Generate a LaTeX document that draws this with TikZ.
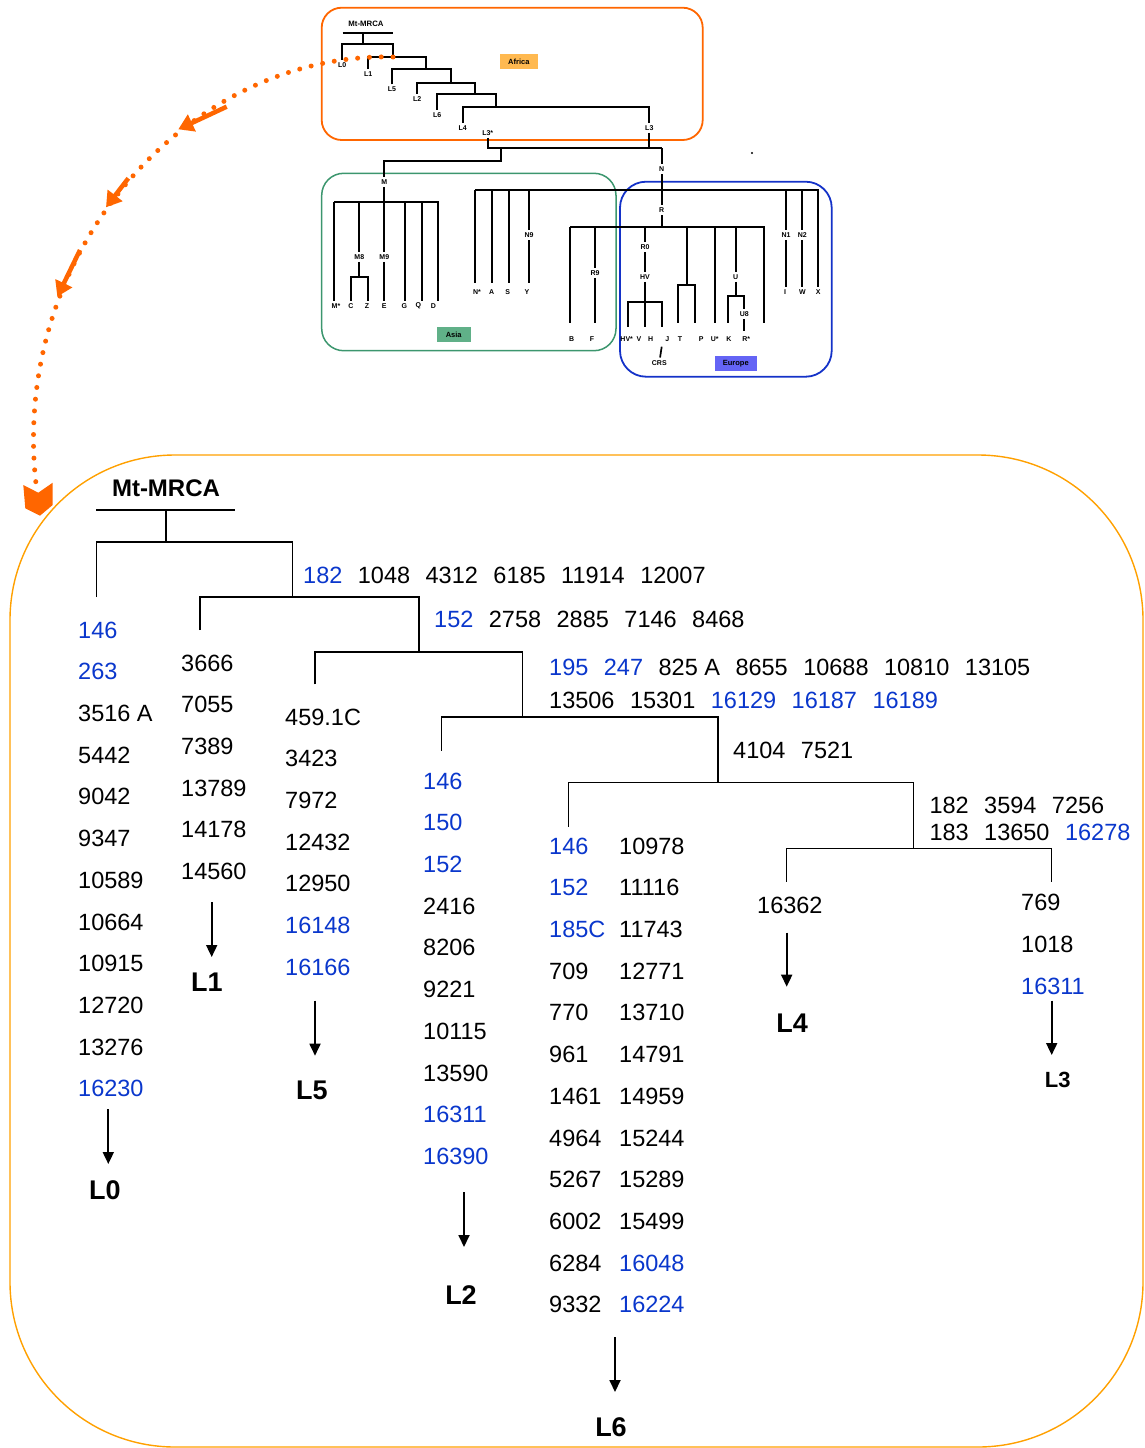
\documentclass[tikz,border=0pt]{standalone}
\usepackage{fontspec}
\setmainfont{Liberation Sans}
\usetikzlibrary{arrows.meta, positioning, calc}

\definecolor{mblue}{RGB}{10,55,204}
\definecolor{afrline}{RGB}{255,102,0}
\definecolor{afrfill}{RGB}{255,185,80}
\definecolor{asialine}{RGB}{60,150,110}
\definecolor{asiafill}{RGB}{96,176,136}
\definecolor{eurline}{RGB}{20,50,200}
\definecolor{eurfill}{RGB}{100,100,245}
\definecolor{bigline}{RGB}{255,160,0}
\newcommand{\gp}{\hspace{15.5pt}}
\newcommand{\bl}[1]{\textcolor{mblue}{#1}}

\begin{document}
\begin{tikzpicture}[x=1pt, y=-1pt,
        tb/.style={line width=1.7pt},
        lab/.style={font=\bfseries\fontsize{7}{8}\selectfont, inner sep=2.5pt},
        regtag/.style={font=\bfseries\fontsize{7.5}{9}\selectfont, inner sep=0pt, minimum height=15pt},
        region/.style={rounded corners=22pt, line width=1.8pt},
        br/.style={line width=1.4pt},
        num/.style={font=\fontsize{23.5}{28}\selectfont, anchor=west, inner sep=0pt},
        hap/.style={font=\bfseries\fontsize{27}{32}\selectfont, inner sep=0pt},
        larrow/.style={line width=1.8pt, -{Triangle[width=11pt, length=12pt]}},
        dotline/.style={afrline, line width=5pt, line cap=round, dash pattern=on 0pt off 11.8pt},
        bigarrow/.style={afrline, line width=4.5pt, -{Triangle[width=18pt, length=15pt]}}
    ]
    \useasboundingbox (0,0) rectangle (1144,1448);

    % Regions
    \draw[region, afrline, rounded corners=20pt] (321.7,7.7) rectangle (702.7,140);
    \draw[region, asialine, line width=1.5pt] (321.7,173.3) rectangle (616,350.7);
    \draw[region, eurline, rounded corners=26pt] (620,181.7) rectangle (831.7,376.7);
    \draw[bigline, line width=1.4pt, rounded corners=165pt] (10,455) rectangle (1143,1447);

    \node[regtag, fill=afrfill, minimum width=37.7pt] (africa) at (518.8,61.8) {Africa};
    \node[regtag, fill=asiafill, minimum width=34pt] (asia) at (453.7,334.8) {Asia};
    \node[regtag, fill=eurfill, minimum width=41.7pt] (europe) at (735.8,363.8) {Europe};
    \fill (752,153) circle (1.2pt);

    % Small tree: Africa
    \node[lab, font=\bfseries\fontsize{7.8}{9}\selectfont] (tmrca) at (366,23.5) {Mt-MRCA};
    \coordinate (tbL) at (342.7,32.7);
    \coordinate (tbR) at (392.7,32.7);
    \coordinate (a0) at (363.3,44.3);
    \coordinate (a1) at (393,56.7);
    \coordinate (a2) at (426,69.3);
    \coordinate (a3) at (450.7,82.7);
    \coordinate (a4) at (475.3,94.3);
    \coordinate (a5) at (496,106.7);
    \node[lab] (tL0) at (342.3,64.7) {L0};
    \node[lab] (tL1) at (368.3,74.3) {L1};
    \node[lab] (tL5) at (392,89.5) {L5};
    \node[lab] (tL2) at (417.3,99) {L2};
    \node[lab] (tL6) at (437.3,115) {L6};
    \node[lab] (tL4) at (462.7,127.7) {L4};
    \node[lab] (tL3) at (649.3,127.7) {L3};
    \node[lab] (tL3s) at (487.7,132.7) {L3*};
    \draw[tb] (tbL) -- (tbR);
    \draw[tb] (a0 |- tbL) -- (a0);
    \draw[tb] (tL0) |- (a0) -| (a1);
    \draw[tb] (tL1) |- (a1) -| (a2);
    \draw[tb] (tL5) |- (a2) -| (a3);
    \draw[tb] (tL2) |- (a3) -| (a4);
    \draw[tb] (tL6) |- (a4) -| (a5);
    \draw[tb] (tL4) |- (a5) -| (tL3);

    % M and N
    \coordinate (nj) at (661.7,148.3);
    \coordinate (mj) at (501,148.3);
    \coordinate (mk) at (501,160.7);
    \node[lab] (M) at (384.3,181.7) {M};
    \node[lab] (N) at (661.7,169) {N};
    \node[lab] (R) at (661.7,210) {R};
    \coordinate (rj) at (661.7,227.3);
    \draw[tb] (tL3s) |- (nj);
    \draw[tb] (tL3) -- (tL3 |- nj);
    \draw[tb] (mj) -- (mk) -| (M);
    \draw[tb] (nj) -- (N) -- (R) -- (rj);

    % Asia: M
    \coordinate (mb) at (334.3,201.7);
    \coordinate (md) at (438.3,300.7);
    \node[lab] (M8) at (359.3,256.7) {M8};
    \node[lab] (M9) at (384.3,256.7) {M9};
    \coordinate (m8j) at (359.3,276.7);
    \draw[tb] (mb) -| (md);
    \draw[tb] (M) -- (M9) -- (384.3,300.7);
    \draw[tb] (M8 |- mb) -- (M8) -- (m8j);
    \draw[tb] (351,300.7) |- (m8j) -| (367.7,300.7);
    \foreach \x in {334.3, 405, 421.7}
        \draw[tb] (\x,201.7) -- (\x,300.7);
    \foreach \t/\x [count=\i] in {M*/336, C/351, Z/367, E/384.3, G/404.3, Q/418.3, D/433.3}
        \node[lab] (ml-\i) at (\x,305.7) {\t};

    % N row
    \coordinate (nb) at (475,190);
    \coordinate (nx) at (818.3,286.7);
    \node[lab] (N9) at (529,235) {N9};
    \node[lab] (N1) at (786,235) {N1};
    \node[lab] (N2) at (802.3,235) {N2};
    \draw[tb] (nb) -| (nx);
    \foreach \x in {475, 491.7, 509}
        \draw[tb] (\x,190) -- (\x,283.3);
    \draw[tb] (N9 |- nb) -- (N9) -- (529,283.3);
    \draw[tb] (N1 |- nb) -- (N1) -- (786,286.7);
    \draw[tb] (N2 |- nb) -- (N2) -- (802.3,286.7);
    \foreach \t/\x [count=\i] in {N*/477, A/491.7, S/507.7, Y/527, I/785, W/802.3, X/818.3}
        \node[lab] (nl-\i) at (\x,292.3) {\t};

    % R row
    \coordinate (rb) at (570,227.3);
    \coordinate (rx) at (764,322.7);
    \node[lab] (R9) at (595,273.3) {R9};
    \node[lab] (R0) at (645,247.3) {R0};
    \node[lab] (HV) at (645,276.7) {HV};
    \node[lab] (U) at (735.7,276.7) {U};
    \node[lab] (U8) at (744.3,314) {U8};
    \coordinate (hvj) at (645,301.7);
    \coordinate (tpj) at (686.7,285);
    \coordinate (uj) at (735.7,296);
    \draw[tb] (rb) -| (rx);
    \draw[tb] (rb) -- (570,322.7);
    \draw[tb] (R9 |- rb) -- (R9) -- (595,322.7);
    \draw[tb] (R0 |- rb) -- (R0) -- (HV) -- (hvj);
    \draw[tb] (628.3,326.7) |- (hvj) -| (661.7,326.7);
    \draw[tb] (hvj) -- (645,326.7);
    \draw[tb] (tpj |- rb) -- (tpj);
    \draw[tb] (678.3,322.7) |- (tpj) -| (695,322.7);
    \draw[tb] (715,227.3) -- (715,322.7);
    \draw[tb] (U |- rb) -- (U) -- (uj);
    \draw[tb] (727.7,322.7) |- (uj) -| (U8);
    \draw[tb] (U8) -- (744.3,331);
    \node[lab] (CRS) at (659.3,362.7) {CRS};
    \draw[tb] (661.7,346.7) -- (CRS);
    \foreach \t/\x [count=\i] in {B/571.7, F/592, HV*/626.7, V/639, H/650.7, J/667.3, T/680, P/701.3, U*/714.7, K/729, R*/746.3}
        \node[lab] (rl-\i) at (\x,339.3) {\t};

    % Dotted link to the big tree
    \coordinate (dotA) at (393,57);
    \coordinate (dotB) at (36,484);
    \draw[dotline] (dotA) .. controls (190,52) and (10,250) .. (dotB);
    \coordinate (m1a) at (226.7,106.7);
    \coordinate (m1b) at (178.3,129.3);
    \coordinate (m2a) at (128.3,178.3);
    \coordinate (m2b) at (106,207.3);
    \coordinate (m3a) at (80,250);
    \coordinate (m3b) at (57.3,296.7);
    \foreach \i in {1,2,3}
        \draw[bigarrow] (m\i a) -- (m\i b);
    \fill[afrline] (23.3,485) -- (38.3,492.7) -- (52.7,482.7) -- (52.7,505) -- (40,515.7) -- (25.3,508.3) -- cycle;

    % Big tree
    \node[hap, font=\bfseries\fontsize{24}{28}\selectfont] (mrca) at (166,488) {Mt-MRCA};
    \coordinate (bar0L) at (96,510);
    \coordinate (bar0R) at (235,510);
    \coordinate (p0) at (166,542);
    \coordinate (p1) at (292.3,597);
    \coordinate (p2) at (419,652);
    \coordinate (p3) at (522.7,717);
    \coordinate (p4) at (718,782.5);
    \coordinate (p5) at (913.3,848.3);
    \coordinate (e0) at (96.3,597);
    \coordinate (e1) at (200,630);
    \coordinate (e5) at (315,684.3);
    \coordinate (e2) at (441.7,750.7);
    \coordinate (e6) at (568.3,826.7);
    \coordinate (e4) at (786.7,881.7);
    \coordinate (e3) at (1051.7,881.7);
    \draw[br] (bar0L) -- (bar0R);
    \draw[br] (mrca |- bar0L) -- (p0);
    \draw[br] (e0) |- (p0) -| (p1);
    \draw[br] (e1) |- (p1) -| (p2);
    \draw[br] (e5) |- (p2) -| (p3);
    \draw[br] (e2) |- (p3) -| (p4);
    \draw[br] (e6) |- (p4) -| (p5);
    \draw[br] (e4) |- (p5) -| (e3);

    % Mutations on the branches
    \node[num] (r1) at (303,575.5) {\bl{182}\gp 1048\gp 4312\gp 6185\gp 11914\gp 12007};
    \node[num] (r2) at (434,619.5) {\bl{152}\gp 2758\gp 2885\gp 7146\gp 8468};
    \node[num] (r3) at (549,667) {\bl{195\gp 247}\gp 825 A\gp 8655\gp 10688\gp 10810\gp 13105};
    \node[num] (r4) at (549,700) {13506\gp 15301\gp \bl{16129\gp 16187\gp 16189}};
    \node[num] (r5) at (733,750) {4104\gp 7521};
    \node[num] (r6) at (929.3,805) {182\gp 3594\gp 7256};
    \node[num] (r7) at (929.3,832.7) {183\gp 13650\gp \bl{16278}};

    % Mutations per lineage
    \foreach \c/\t [count=\i] in {mblue/146, mblue/263, black/3516 A, black/5442, black/9042, black/9347,
            black/10589, black/10664, black/10915, black/12720, black/13276, mblue/16230}
        \node[num, text=\c] (c0-\i) at (78,{588.3+41.7*\i}) {\t};
    \foreach \c/\t [count=\i] in {black/3666, black/7055, black/7389, black/13789, black/14178, black/14560}
        \node[num, text=\c] (c1-\i) at (181,{621.3+41.7*\i}) {\t};
    \foreach \c/\t [count=\i] in {black/459.1C, black/3423, black/7972, black/12432, black/12950,
            mblue/16148, mblue/16166}
        \node[num, text=\c] (c5-\i) at (285,{675.3+41.7*\i}) {\t};
    \foreach \c/\t [count=\i] in {mblue/146, mblue/150, mblue/152, black/2416, black/8206, black/9221,
            black/10115, black/13590, mblue/16311, mblue/16390}
        \node[num, text=\c] (c2-\i) at (423,{739.3+41.7*\i}) {\t};
    \foreach \c/\t [count=\i] in {mblue/146, mblue/152, mblue/185C, black/709, black/770, black/961,
            black/1461, black/4964, black/5267, black/6002, black/6284, black/9332}
        \node[num, text=\c] (c6a-\i) at (549,{804.3+41.7*\i}) {\t};
    \foreach \c/\t [count=\i] in {black/10978, black/11116, black/11743, black/12771, black/13710, black/14791,
            black/14959, black/15244, black/15289, black/15499, mblue/16048, mblue/16224}
        \node[num, text=\c] (c6b-\i) at (619,{804.3+41.7*\i}) {\t};
    \node[num] (c4-1) at (757,905) {16362};
    \foreach \c/\t [count=\i] in {black/769, black/1018, mblue/16311}
        \node[num, text=\c] (c3-\i) at (1021,{860+42*\i}) {\t};

    % Haplogroups
    \node[hap] (L0) at (105,1190) {L0};
    \node[hap] (L1) at (207,982) {L1};
    \node[hap] (L5) at (312,1090) {L5};
    \node[hap] (L2) at (461,1295) {L2};
    \node[hap] (L6) at (611,1427) {L6};
    \node[hap] (L4) at (792,1023) {L4};
    \node[hap, font=\bfseries\fontsize{22}{26}\selectfont] (L3) at (1057.7,1080) {L3};
    \foreach \n/\x/\ya/\yb in {0/108.3/1109/1164, 1/211.7/902/957, 5/315/1000.7/1055.7, 2/464/1192/1247,
            6/615/1337/1392, 4/786.7/932.7/986.7, 3/1051.7/1000.7/1055} {
        \coordinate (s\n) at (\x,\ya);
        \coordinate (t\n) at (\x,\yb);
        \draw[larrow] (s\n) -- (t\n);
    }
\end{tikzpicture}
\end{document}
